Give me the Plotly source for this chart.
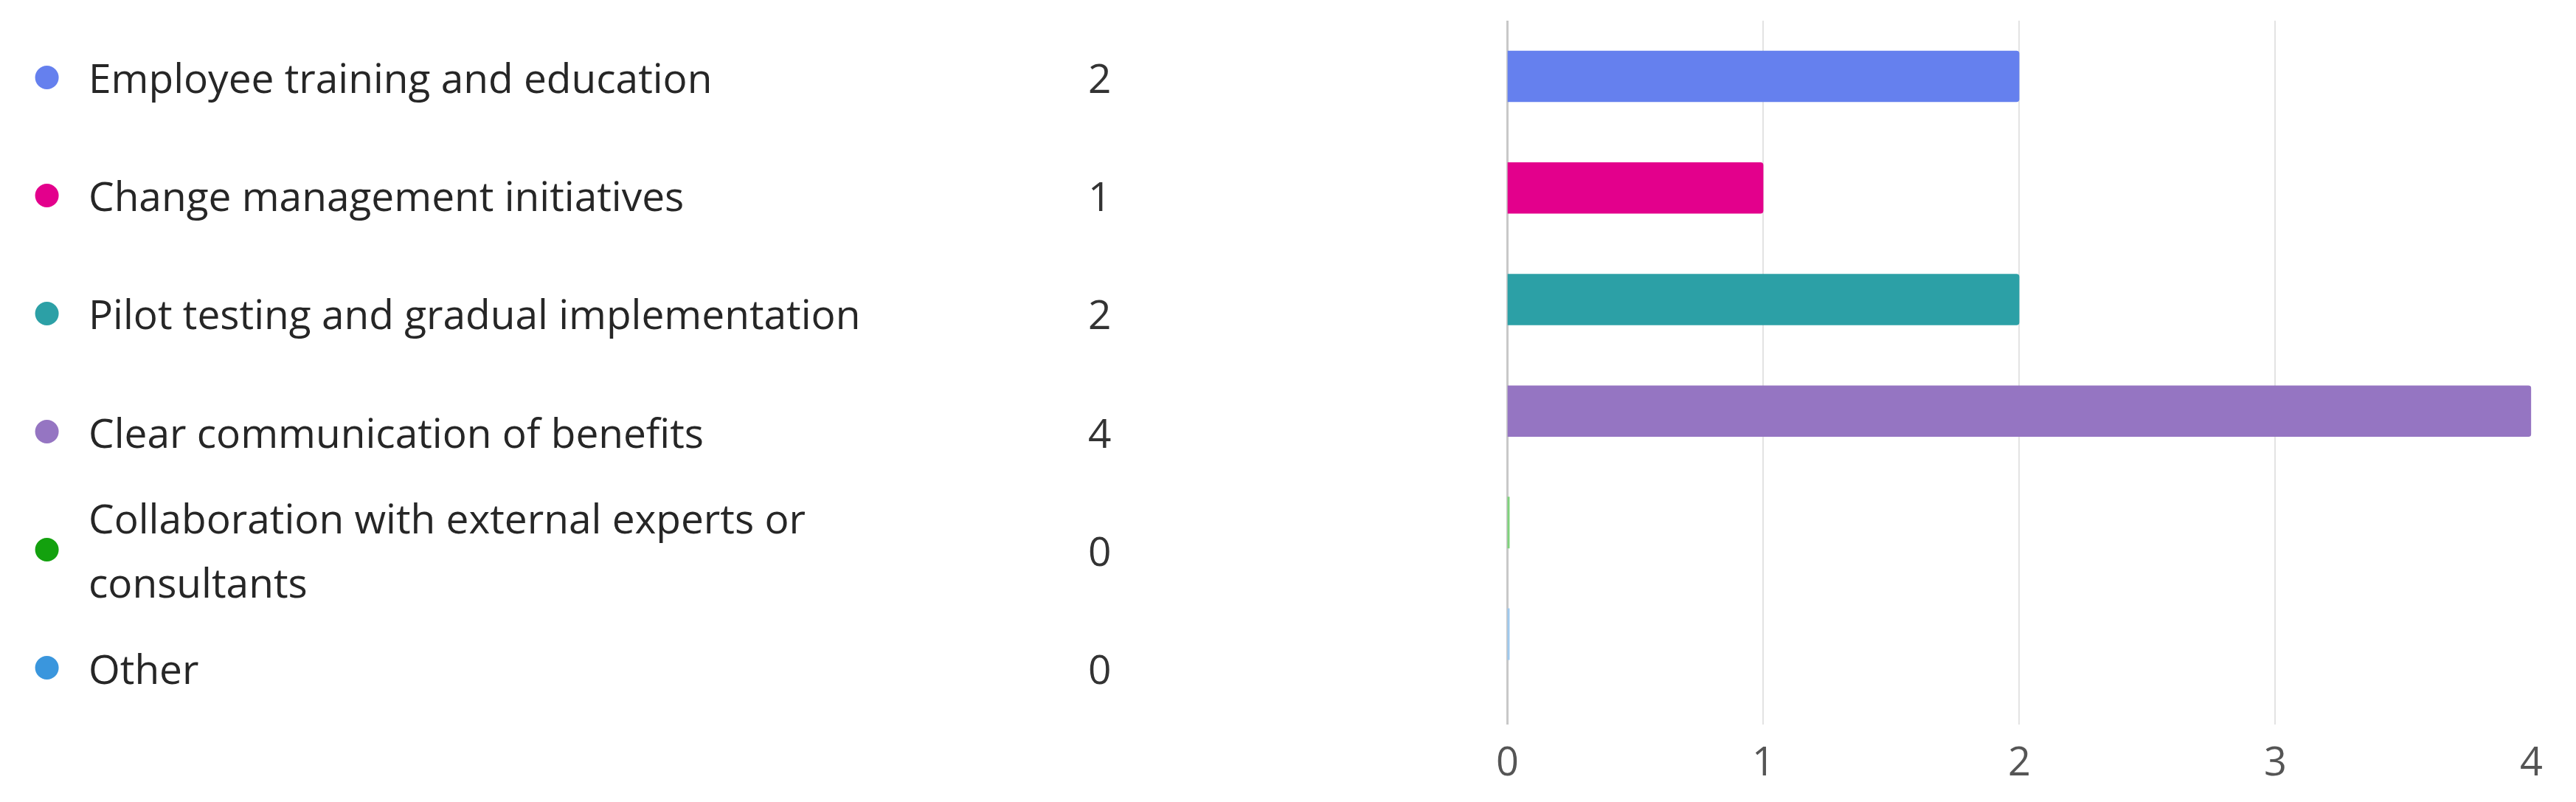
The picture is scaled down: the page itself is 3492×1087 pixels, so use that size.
import plotly.graph_objects as go

# ---- data ----
categories = [
    "Employee training and education",
    "Change management initiatives",
    "Pilot testing and gradual implementation",
    "Clear communication of benefits",
    "Collaboration with external experts or consultants",
    "Other",
]
label_lines = [
    ["Employee training and education"],
    ["Change management initiatives"],
    ["Pilot testing and gradual implementation"],
    ["Clear communication of benefits"],
    ["Collaboration with external experts or", "consultants"],
    ["Other"],
]
values = [2, 1, 2, 4, 0, 0]
tick_vals = [0, 1, 2, 3, 4]
tick_text = ["0", "1", "2", "3", "4"]

# ---- styles ----
colors = ["#6580EE", "#E3008C", "#2CA0A6", "#9575C2", "#13A10E", "#3A96DD"]
zero_colors = ["#a9b8f6", "#f08cc8", "#8fd0d3", "#c9b8e2", "#7fd27c", "#9fc9ee"]
FONT = "Segoe UI, Open Sans, sans-serif"
W, H = 3492, 1087
DOT_X, LABEL_X, VALUE_X, LEFT_W = 49, 104, 1488, 1746
LINE_STEP = 87  # px between wrapped label lines

fig = go.Figure()

# bars
fig.add_trace(go.Bar(
    x=values, y=categories, orientation="h",
    marker=dict(color=colors, cornerradius=4, line=dict(width=0)),
    xaxis="x", yaxis="y", hoverinfo="skip",
))

# zero-valued bars are shown as thin coloured ticks at the baseline
zx = [v for v in values if v == 0]
zy = [c for c, v in zip(categories, values) if v == 0]
zc = [zc_ for zc_, v in zip(zero_colors, values) if v == 0]
fig.add_trace(go.Scatter(
    x=zx, y=zy, mode="markers",
    marker=dict(symbol="line-ns", size=50, line=dict(color=zc, width=6)),
    xaxis="x", yaxis="y", hoverinfo="skip",
))

# legend dots
fig.add_trace(go.Scatter(
    x=[DOT_X] * len(categories), y=categories, mode="markers",
    marker=dict(size=32, color=colors, line=dict(width=0)),
    xaxis="x2", yaxis="y2", hoverinfo="skip",
))

annotations = []
for cat, lines, v in zip(categories, label_lines, values):
    n = len(lines)
    for i, line in enumerate(lines):
        annotations.append(dict(
            x=LABEL_X, y=cat, xref="x2", yref="y2", text=line, showarrow=False,
            xanchor="left", yanchor="middle", align="left",
            yshift=-(i - (n - 1) / 2) * LINE_STEP,
            font=dict(family=FONT, size=55, color="#262626"),
        ))
    annotations.append(dict(
        x=VALUE_X, y=cat, xref="x2", yref="y2", text=str(v), showarrow=False,
        xanchor="center", yanchor="middle",
        font=dict(family=FONT, size=55, color="#333333"),
    ))

fig.update_layout(
    autosize=True,
    margin=dict(l=0, r=0, t=28, b=105),
    paper_bgcolor="white", plot_bgcolor="white",
    showlegend=False, bargap=0.54,
    font=dict(family=FONT),
    annotations=annotations,
    xaxis=dict(
        domain=[2046 / W, 3446 / W], range=[0, 4.0], anchor="y",
        tickvals=tick_vals, ticktext=tick_text,
        showgrid=True, gridcolor="#e3e3e3", gridwidth=2,
        zeroline=True, zerolinecolor="#c8c8c8", zerolinewidth=3,
        showline=False, ticks="", ticklabelstandoff=14,
        tickfont=dict(family=FONT, size=54, color="#555555"),
        fixedrange=True,
    ),
    yaxis=dict(
        type="category", categoryorder="array", categoryarray=categories,
        range=[5.81, -0.5], anchor="x", domain=[0, 1],
        showticklabels=False, showgrid=False, zeroline=False, showline=False,
        fixedrange=True,
    ),
    xaxis2=dict(
        domain=[0, LEFT_W / W], range=[0, LEFT_W], anchor="y2", visible=False,
        fixedrange=True,
    ),
    yaxis2=dict(
        type="category", categoryorder="array", categoryarray=categories,
        range=[5.481, -0.481], anchor="x2", domain=[0, 1], visible=False,
        fixedrange=True,
    ),
)

fig.write_html(
    "out.html",
    default_width="100vw", default_height="100vh",
    post_script="document.body.style.margin='0';document.body.style.overflow='hidden';"
                "document.documentElement.style.overflow='hidden';"
                "Plotly.Plots.resize(document.getElementById('{plot_id}'));",
    config={"displayModeBar": False, "responsive": True},
)
